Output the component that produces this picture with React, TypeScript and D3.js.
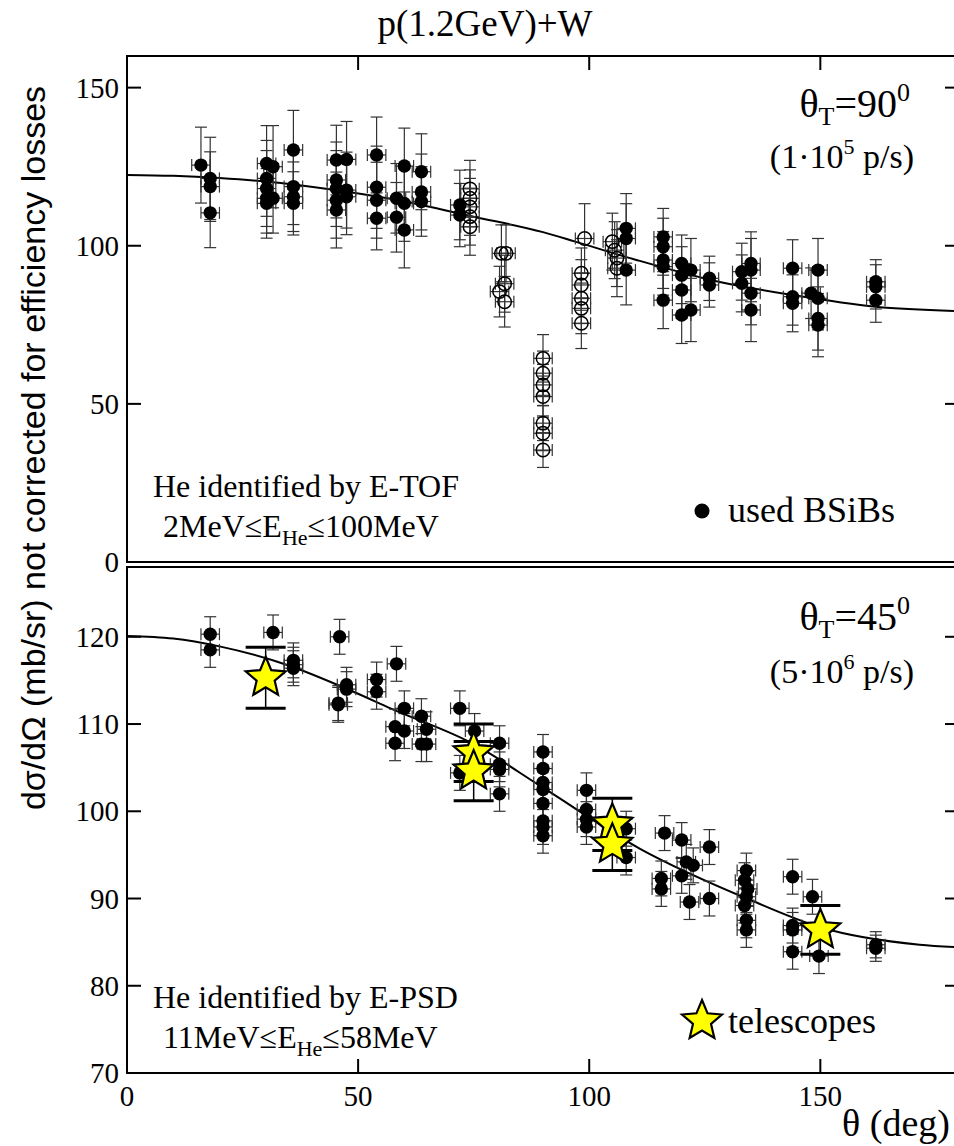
import React from 'react';
import * as d3 from 'd3';

const W = 954;
const H = 1146;

// ---------- data (theta in deg, value, y-error) ----------
const TOP_Y_TICKS = [0, 50, 100, 150];
const BOT_Y_TICKS = [70, 80, 90, 100, 110, 120];
const X_TICKS = [0, 50, 100, 150];
const X_ERR = 2;

// top panel: used BSiBs (filled)
const topFilled: [number, number, number][] = [
  [16, 125.5, 12], [18, 121.3, 13], [18, 118.7, 11], [18, 110.4, 11],
  [30.2, 126, 12], [30.2, 121.3, 12], [30.2, 118.1, 12], [30.2, 115, 11], [30.2, 113.4, 11],
  [31.6, 125, 13], [31.6, 115, 11],
  [36, 130.3, 12.5], [36, 118.7, 12], [36, 115.5, 11], [36, 113.4, 10],
  [45.3, 127.1, 11], [45.3, 120.8, 12], [45.3, 118.1, 12], [45.3, 114.4, 12], [45.3, 111.3, 12],
  [47.5, 127.3, 12], [47.5, 117.6, 12], [47.5, 115.5, 12],
  [54, 128.7, 12], [54, 118.5, 13], [54, 114.4, 12], [54, 108.7, 10],
  [58.3, 115, 11], [58.3, 109, 11],
  [60, 125.2, 12], [60, 113.4, 12], [60, 105, 12],
  [63.7, 123.4, 12], [63.7, 117, 12], [63.7, 114, 11],
  [72, 112.9, 11], [72, 109.7, 10],
  [108, 105.5, 11], [108, 102.3, 11], [108, 92.3, 11],
  [116, 102.8, 9], [116, 99.7, 9], [116, 95.5, 9], [116, 93.4, 9], [116, 82.8, 9],
  [120, 94.4, 9], [120, 90.7, 9], [120, 86, 9], [120, 78.1, 9],
  [122, 92.3, 10], [122, 79.7, 10],
  [126, 89.7, 7], [126, 87.6, 7],
  [133, 91.8, 9], [133, 88.1, 9],
  [135, 94.4, 10], [135, 92.3, 10], [135, 85, 10], [135, 79.7, 10],
  [144, 92.9, 9], [144, 83.9, 9], [144, 81.8, 9],
  [148, 85, 8],
  [149.5, 92.3, 10], [149.5, 83.4, 10], [149.5, 77, 10], [149.5, 74.9, 10],
  [162, 88.6, 7], [162, 87, 7], [162, 82.8, 7],
];

// top panel: not used (open)
const topOpen: [number, number, number][] = [
  [74.2, 118, 9], [74.2, 115, 9], [74.2, 112.3, 9], [74.2, 109.2, 9], [74.2, 106, 9],
  [81, 97.6, 9], [82, 97.6, 9], [81.7, 88, 9], [80.6, 85.5, 8], [81.7, 82.3, 8],
  [90, 64.4, 7.5], [90, 59.7, 7], [90, 56, 6.5], [90, 52.3, 6.5], [90, 43.9, 5.5], [90, 40.7, 5.5], [90, 35.4, 5.5],
  [98.3, 91.3, 8], [98.3, 87.6, 8], [98.3, 83.4, 8], [98.3, 80.2, 8], [98.3, 75.5, 8],
  [99, 102.3, 11],
  [105, 101.3, 9], [105.5, 98.6, 9], [106, 96.1, 9], [106, 92.9, 9],
];

// bottom panel: BSiBs (filled)
const botFilled: [number, number, number][] = [
  [18, 120.3, 2], [18, 118.5, 2],
  [31.6, 120.5, 2],
  [36, 117.3, 2], [36, 116.8, 2], [36, 116.4, 2],
  [45.7, 112.4, 2], [45.7, 112.2, 2], [46, 120.0, 2],
  [47.5, 114.5, 2], [47.5, 114.0, 2],
  [54, 115.1, 2], [54, 113.7, 2],
  [58.3, 116.9, 2], [58, 109.7, 2], [58, 107.8, 2], [60, 111.8, 2], [60, 109.2, 2],
  [63.7, 110.9, 2], [63.7, 107.7, 2], [64.8, 109.4, 2], [64.8, 107.7, 2],
  [72, 111.8, 2], [72, 104.4, 2],
  [75.2, 109.2, 2],
  [80.6, 107.8, 2], [80.6, 105.4, 2], [80.6, 104.8, 2], [80.6, 102, 2],
  [90, 106.8, 2], [90, 104.9, 2], [90, 103.3, 2], [90, 102.5, 2], [90, 100.9, 2], [90, 98.9, 2], [90, 98.2, 2], [90, 97.2, 2],
  [99.4, 102.4, 2], [99.4, 100.2, 2], [99.4, 99.1, 2], [99.4, 98.2, 2],
  [108, 98, 2], [108, 94.7, 2],
  [116.3, 97.5, 2], [115.6, 92.3, 2], [115.6, 91.1, 2],
  [120, 96.7, 2], [120, 92.6, 2], [121, 94.2, 2], [122.5, 93.8, 2], [121.7, 89.6, 2],
  [126, 95.9, 2], [126, 90, 2],
  [134, 93.2, 2], [133.6, 92.1, 2], [134.3, 91.1, 2], [134, 90.2, 2], [133.6, 89.2, 2], [134, 87.5, 2], [134, 86.4, 2],
  [144, 92.5, 2], [144, 86.9, 2], [144, 86.4, 2], [144, 83.9, 2],
  [148.3, 90.2, 2], [149.7, 83.4, 2],
  [162, 84.7, 1.5], [162, 84.3, 1.5],
];

// bottom panel: telescopes (stars)
const botStars: [number, number, number][] = [
  [30, 115.3, 3.5], [75, 106.7, 3.3], [75, 104.6, 3.4], [105, 98.5, 3], [105, 96.2, 3], [150, 86.4, 2.8],
];

// fit curves
const topCurve: [number, number][] = [
  [0, 122.4], [10, 122.1], [20, 121.4], [30, 120.3], [45, 117.6], [60, 114], [75, 109.2], [90, 104.3],
  [97, 101.3], [110, 95.6], [127.5, 88.8], [144, 84.4], [162, 80.7], [180, 79.3],
];
const botCurve: [number, number][] = [
  [0, 120.1], [10, 119.8], [20, 118.9], [34.5, 116.8], [49, 113.7], [57, 111.8], [75, 107.7], [90, 102.7],
  [111, 95.7], [135, 89.8], [150, 86.7], [171.5, 84.7], [180, 84.4],
];

// ---------- layout ----------
const X0 = 127;
const X1 = 959;
const TOP_Y0 = 56;
const TOP_Y1 = 562;
const BOT_Y0 = 567;
const BOT_Y1 = 1073;
const FONT = "'Liberation Serif', 'Times New Roman', serif";
const SANS = "'Liberation Sans', Arial, sans-serif";

const x = d3.scaleLinear().domain([0, 180]).range([X0, X1]);
const yTop = d3.scaleLinear().domain([0, 160]).range([TOP_Y1, TOP_Y0]);
const yBot = d3.scaleLinear().domain([70, 128]).range([BOT_Y1, BOT_Y0]);

const starPath = (R: number, r: number) => {
  const pts: [number, number][] = d3.range(10).map((i) => [(i * Math.PI) / 5, i % 2 === 0 ? R : r]);
  return d3.lineRadial<[number, number]>().angle((d) => d[0]).radius((d) => d[1]).curve(d3.curveLinearClosed)(pts) || '';
};
const STAR = starPath(21, 9.5);

function ErrorBars({ data, y, cap = 6 }: { data: [number, number, number][]; y: d3.ScaleLinear<number, number>; cap?: number }) {
  return (
    <g stroke="#333" strokeWidth={1.2} fill="none">
      {data.map(([t, v, e], i) => {
        const cx = x(t);
        const cy = y(v);
        const yt = y(v + e);
        const yb = y(v - e);
        const xl = x(t - X_ERR);
        const xr = x(t + X_ERR);
        return (
          <g key={i}>
            <line x1={cx} x2={cx} y1={yt} y2={yb} />
            <line x1={cx - cap} x2={cx + cap} y1={yt} y2={yt} />
            <line x1={cx - cap} x2={cx + cap} y1={yb} y2={yb} />
            <line x1={xl} x2={xr} y1={cy} y2={cy} />
            <line x1={xl} x2={xl} y1={cy - cap} y2={cy + cap} />
            <line x1={xr} x2={xr} y1={cy - cap} y2={cy + cap} />
          </g>
        );
      })}
    </g>
  );
}

function Frame({ y0, y1, yScale, ticks, topTicks, bottomTicks }: { y0: number; y1: number; yScale: d3.ScaleLinear<number, number>; ticks: number[]; topTicks?: boolean; bottomTicks?: boolean }) {
  const TL = 14;
  return (
    <g>
      <rect x={X0} y={y0} width={X1 - X0} height={y1 - y0} fill="none" stroke="#000" strokeWidth={2} />
      {ticks.map((t) => (
        <g key={t} stroke="#000" strokeWidth={2}>
          <line x1={X0} x2={X0 + TL} y1={yScale(t)} y2={yScale(t)} />
          <line x1={X1} x2={X1 - TL} y1={yScale(t)} y2={yScale(t)} />
        </g>
      ))}
      {ticks.map((t) => (
        <text key={'l' + t} x={119} y={yScale(t)} dy="0.35em" textAnchor="end" fontSize={29} fontFamily={FONT}>
          {t}
        </text>
      ))}
      {topTicks && X_TICKS.filter((t) => t > 0).map((t) => (
        <line key={'tt' + t} x1={x(t)} x2={x(t)} y1={y0} y2={y0 + TL} stroke="#000" strokeWidth={2} />
      ))}
      {bottomTicks && X_TICKS.filter((t) => t > 0).map((t) => (
        <line key={'bt' + t} x1={x(t)} x2={x(t)} y1={y1} y2={y1 - TL} stroke="#000" strokeWidth={2} />
      ))}
    </g>
  );
}

export default function App() {
  const lineTop = d3.line<[number, number]>().x((d) => x(d[0])).y((d) => yTop(d[1])).curve(d3.curveMonotoneX);
  const lineBot = d3.line<[number, number]>().x((d) => x(d[0])).y((d) => yBot(d[1])).curve(d3.curveMonotoneX);
  const R = 6.7;
  return (
    <svg width={W} height={H} style={{ position: 'absolute', left: 0, top: 0, background: '#fff' }} fontFamily={FONT}>
      <rect x={0} y={0} width={W} height={H} fill="#fff" />
      {/* title */}
      <text x={485} y={36} textAnchor="middle" fontSize={37}>p(1.2GeV)+W</text>

      {/* y-axis label */}
      <text transform="translate(45,448) rotate(-90)" textAnchor="middle" fontSize={34} fontFamily={SANS}>
        dσ/dΩ (mb/sr) not corrected for efficiency losses
      </text>

      {/* ---------- top panel ---------- */}
      <Frame y0={TOP_Y0} y1={TOP_Y1} yScale={yTop} ticks={TOP_Y_TICKS} topTicks />
      <path d={lineTop(topCurve) || ''} fill="none" stroke="#000" strokeWidth={2} />
      <ErrorBars data={topFilled} y={yTop} />
      <ErrorBars data={topOpen} y={yTop} />
      {topOpen.map(([t, v], i) => (
        <circle key={'o' + i} cx={x(t)} cy={yTop(v)} r={R} fill="none" stroke="#000" strokeWidth={1.5} />
      ))}
      {topFilled.map(([t, v], i) => (
        <circle key={'f' + i} cx={x(t)} cy={yTop(v)} r={R} fill="#000" />
      ))}

      <text x={910} y={117} textAnchor="end" fontSize={40}>
        θ<tspan fontSize={26} dy={8}>T</tspan>
        <tspan dy={-8}>=90</tspan>
        <tspan fontSize={26} dy={-16}>0</tspan>
      </text>
      <text x={914} y={168} textAnchor="end" fontSize={34}>
        (1·10<tspan fontSize={22} dy={-14}>5</tspan>
        <tspan dy={14}> p/s)</tspan>
      </text>

      <text x={153} y={497} fontSize={32}>He identified by E-TOF</text>
      <text x={163} y={537} fontSize={32}>
        2MeV≤E<tspan fontSize={22} dy={8}>He</tspan>
        <tspan dy={-8}>≤100MeV</tspan>
      </text>

      <circle cx={702} cy={511} r={7.5} fill="#000" />
      <text x={728} y={522} fontSize={36}>used BSiBs</text>

      {/* ---------- bottom panel ---------- */}
      <Frame y0={BOT_Y0} y1={BOT_Y1} yScale={yBot} ticks={BOT_Y_TICKS} bottomTicks />
      <path d={lineBot(botCurve) || ''} fill="none" stroke="#000" strokeWidth={2} />
      <ErrorBars data={botFilled} y={yBot} />
      {botFilled.map(([t, v], i) => (
        <circle key={'b' + i} cx={x(t)} cy={yBot(v)} r={R} fill="#000" />
      ))}
      <g stroke="#000" strokeWidth={3} fill="none">
        {botStars.map(([t, v, e], i) => (
          <g key={'se' + i}>
            <line x1={x(t)} x2={x(t)} y1={yBot(v + e)} y2={yBot(v - e)} strokeWidth={1.5} />
            <line x1={x(t) - 20} x2={x(t) + 20} y1={yBot(v + e)} y2={yBot(v + e)} />
            <line x1={x(t) - 20} x2={x(t) + 20} y1={yBot(v - e)} y2={yBot(v - e)} />
          </g>
        ))}
      </g>
      {botStars.map(([t, v], i) => (
        <path key={'s' + i} d={STAR} transform={`translate(${x(t)},${yBot(v)})`} fill="#ffff00" stroke="#000" strokeWidth={2.2} strokeLinejoin="miter" />
      ))}

      <text x={910} y={630} textAnchor="end" fontSize={40}>
        θ<tspan fontSize={26} dy={8}>T</tspan>
        <tspan dy={-8}>=45</tspan>
        <tspan fontSize={26} dy={-16}>0</tspan>
      </text>
      <text x={914} y={683} textAnchor="end" fontSize={34}>
        (5·10<tspan fontSize={22} dy={-14}>6</tspan>
        <tspan dy={14}> p/s)</tspan>
      </text>

      <text x={153} y={1008} fontSize={32}>He identified by E-PSD</text>
      <text x={163} y={1048} fontSize={32}>
        11MeV≤E<tspan fontSize={22} dy={8}>He</tspan>
        <tspan dy={-8}>≤58MeV</tspan>
      </text>

      <path d={STAR} transform="translate(702,1021)" fill="#ffff00" stroke="#000" strokeWidth={2.2} />
      <text x={728} y={1033} fontSize={36}>telescopes</text>

      {/* x tick labels */}
      {X_TICKS.map((t) => (
        <text key={'xl' + t} x={x(t)} y={1106} textAnchor="middle" fontSize={29}>{t}</text>
      ))}
      <text x={950} y={1136} textAnchor="end" fontSize={38}>θ (deg)</text>
    </svg>
  );
}
